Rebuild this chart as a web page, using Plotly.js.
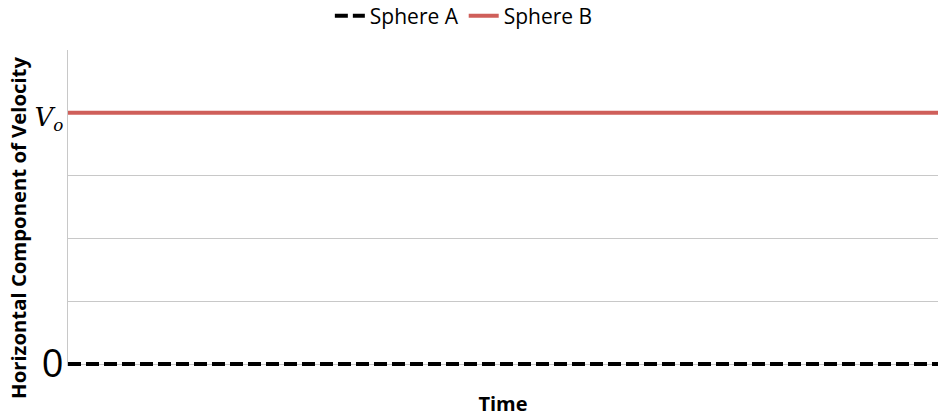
<!DOCTYPE html>
<html><head><meta charset="utf-8">
<script src="https://cdn.plot.ly/plotly-3.0.1.min.js"></script>
<style>html,body{margin:0;padding:0;background:#fff}#chart{width:938px;height:417px}</style>
</head><body><div id="chart"></div>
<script>
const time = [0, 10];
const sphereA = [0, 0];
const sphereB = [4, 4];
const yTickVals = [0, 4];
const yTickText = ['0', '<span style="font-family:\'DejaVu Serif\';font-size:26px"><i>V</i></span><span style="font-family:\'DejaVu Serif\';font-size:24px"><sub><i>o</i></sub></span>'];
const yTitle = '<b>Horizontal Component of Velocity</b>';

const traces = [
  {x: time, y: sphereA, name: 'Sphere A', mode: 'lines', line: {color: '#000000', width: 4, dash: '13px,5px'}},
  {x: time, y: sphereB, name: 'Sphere B', mode: 'lines', line: {color: '#cf5f5a', width: 4}}
];
const layout = {
  width: 938, height: 417,
  margin: {l: 68, r: 0, t: 50, b: 51, autoexpand: false},
  paper_bgcolor: '#fff', plot_bgcolor: '#fff',
  font: {family: 'Open Sans, sans-serif', color: '#000'},
  showlegend: true,
  legend: {orientation: 'h', x: 0.455, xanchor: 'center', y: 1.107, yanchor: 'middle', font: {size: 21}, traceorder: 'normal'},
  xaxis: {range: [0, 10], showticklabels: false, showgrid: false, zeroline: false, showline: false, ticks: '',
    title: {text: '<b>Time</b>', font: {size: 20}, standoff: 30}},
  yaxis: {range: [-0.03, 5], tickvals: yTickVals, ticktext: yTickText, showgrid: true, gridcolor: '#c8c8c8', gridwidth: 1,
    minor: {dtick: 1, tick0: 0, showgrid: true, gridcolor: '#c8c8c8', gridwidth: 1, ticks: ''},
    zeroline: false, showline: true, linecolor: '#c8c8c8', linewidth: 1, ticks: '', ticklabelstandoff: -4,
    tickfont: {size: 38, family: 'Open Sans, sans-serif'}},
  annotations: [{text: yTitle, xref: 'paper', yref: 'paper', x: -0.0575, y: 0.437, xanchor: 'center', yanchor: 'middle',
    textangle: -90, showarrow: false, font: {size: 20.3, family: 'Open Sans, sans-serif', color: '#000'}}]
};
Plotly.newPlot('chart', traces, layout, {displayModeBar: false, staticPlot: true});
</script></body></html>
